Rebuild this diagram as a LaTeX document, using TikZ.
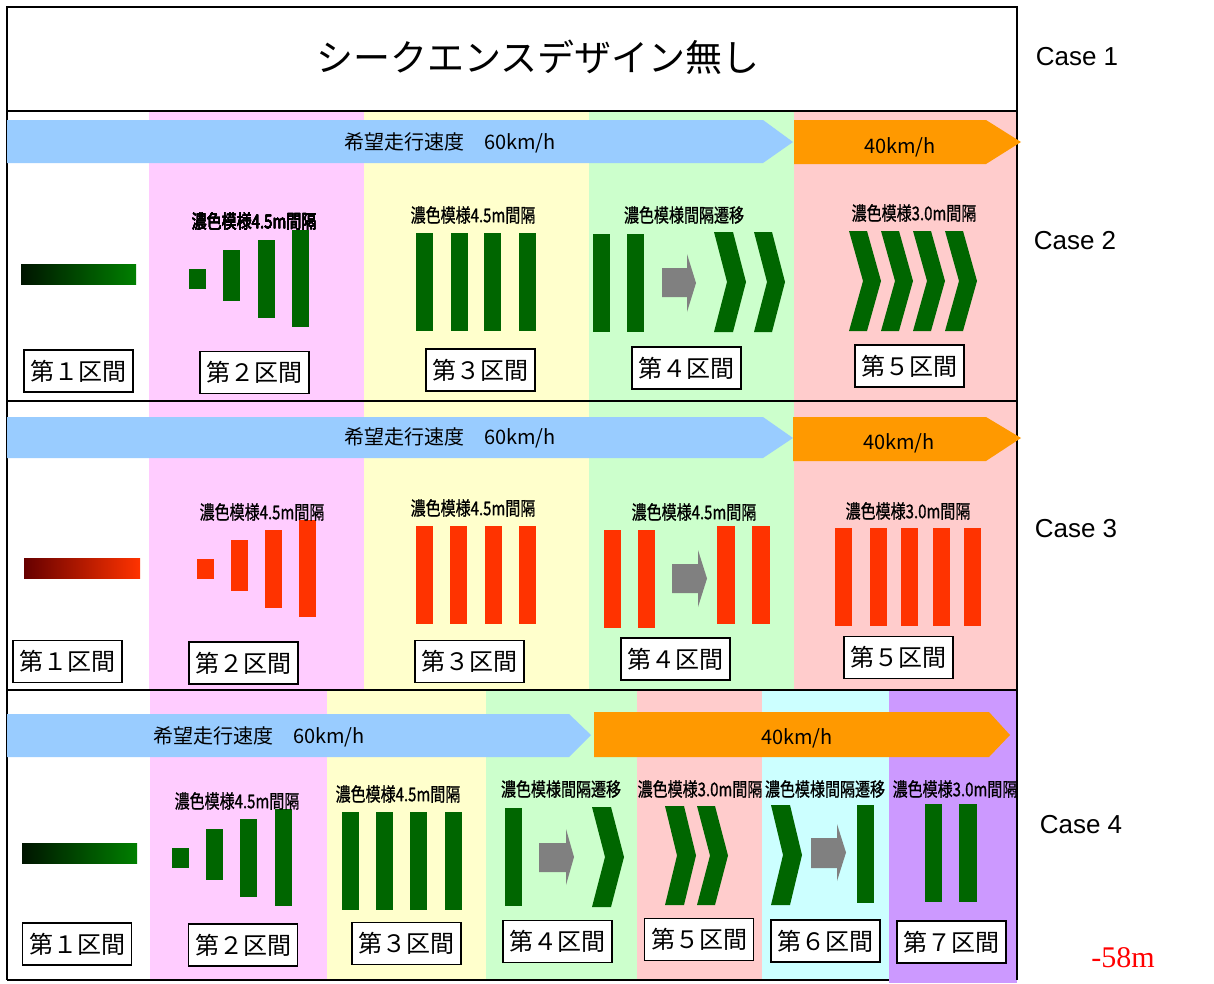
\documentclass[tikz,border=0pt]{standalone}
\usepackage{fontspec}
\usepackage{graphicx}
\setmainfont{Noto Sans CJK JP}
\newfontfamily\patf[FakeBold=1]{Noto Sans CJK JP}
\newfontfamily\arialf{Liberation Sans}
\newfontfamily\timesf{Liberation Serif}
\definecolor{bpink}{HTML}{FFCCFF}
\definecolor{byellow}{HTML}{FFFFCC}
\definecolor{bgreen}{HTML}{CCFFCC}
\definecolor{bsalmon}{HTML}{FFCCCC}
\definecolor{bcyan}{HTML}{CCFFFF}
\definecolor{bpurple}{HTML}{CC99FF}
\definecolor{skyblue}{HTML}{99CCFF}
\definecolor{orng}{HTML}{FF9900}
\definecolor{dkgreen}{HTML}{006600}
\definecolor{redbar}{HTML}{FF3300}
\definecolor{grayarr}{HTML}{808080}
\newcommand{\pat}[1]{\scalebox{0.79}[1]{\patf\fontsize{19}{19}\selectfont #1}}
\newcommand{\chev}[6]{% color, x0, ytop, ybot, w, d
  \fill[#1] ({#2},{#3}) -- ({#2+#5},{#3}) -- ({#2+#5+#6},{(#3+#4)/2}) -- ({#2+#5},{#4}) -- ({#2},{#4}) -- ({#2+#6},{(#3+#4)/2}) -- cycle;}
\newcommand{\garr}[7]{% x0, x1, x2(tip), body top, body bot, head top, head bot
  \fill[grayarr] ({#1},{#4}) -- ({#2},{#4}) -- ({#2},{#6}) -- ({#3},{(#6+#7)/2}) -- ({#2},{#7}) -- ({#2},{#5}) -- ({#1},{#5}) -- cycle;}
\tikzset{
  secbox/.style={draw=black, line width=1.5pt, fill=white, minimum width=109pt, minimum height=42pt, inner sep=0pt, font=\fontsize{24}{24}\selectfont},
  patlab/.style={inner sep=0pt},
  spdtext/.style={inner sep=0pt, font=\fontsize{20}{20}\selectfont},
  caselab/.style={inner sep=0pt, font=\arialf\fontsize{26}{26}\selectfont},
  frame/.style={draw=black, line width=2pt},
}
\begin{document}
\begin{tikzpicture}[x=1pt,y=-1pt]
\useasboundingbox (0,0) rectangle (1214,983);
\fill[white] (0,0) rectangle (1214,983);
% ---------- bands case 2 and 3
\foreach \ya/\yb in {111/401, 401/690}{
  \fill[bpink] (149,\ya) rectangle (364,\yb);
  \fill[byellow] (364,\ya) rectangle (589,\yb);
  \fill[bgreen] (589,\ya) rectangle (794,\yb);
  \fill[bsalmon] (794,\ya) rectangle (1017,\yb);
}
% ---------- bands case 4
\fill[bpink] (150,690) rectangle (327,980);
\fill[byellow] (327,690) rectangle (486,980);
\fill[bgreen] (486,690) rectangle (637,980);
\fill[bsalmon] (637,690) rectangle (762,980);
\fill[bcyan] (762,690) rectangle (889,980);
\fill[bpurple] (889,690) rectangle (1017,983);
% ---------- frame
\draw[frame] (7,7) rectangle (1017,111);
\draw[frame] (7,111) -- (7,980);
\draw[frame] (1017,111) -- (1017,980);
\draw[frame] (7,401) -- (1017,401);
\draw[frame] (7,690) -- (1017,690);
\draw[frame] (7,980) -- (889,980);
\node[inner sep=0pt, font=\fontsize{37}{37}\selectfont] (title) at (538,57) {シークエンスデザイン無し};
% ---------- case labels
\node[caselab] (case1) at (1077,57) {Case 1};
\node[caselab] (case2) at (1075,241) {Case 2};
\node[caselab] (case3) at (1076,529) {Case 3};
\node[caselab] (case4) at (1081,825) {Case 4};
\node[inner sep=0pt, text=red, font=\timesf\fontsize{30}{30}\selectfont] (dist) at (1123,958) {-58m};
% ---------- speed arrows
\fill[skyblue] (7,120) -- (763,120) -- (793,142) -- (763,163) -- (7,163) -- cycle;
\fill[orng] (794,120) -- (986,120) -- (1021,142) -- (986,164) -- (794,164) -- cycle;
\fill[skyblue] (7,417) -- (763,417) -- (793,438) -- (763,458) -- (7,458) -- cycle;
\fill[orng] (793,417) -- (986,417) -- (1021,438) -- (986,461) -- (793,461) -- cycle;
\fill[skyblue] (7,714) -- (569,714) -- (591,735) -- (569,757) -- (7,757) -- cycle;
\fill[orng] (594,712) -- (989,712) -- (1010,735) -- (989,757) -- (594,757) -- cycle;
\node[spdtext] (s2a) at (450,143) {希望走行速度　60km/h};
\node[spdtext] (s2b) at (900,147) {40km/h};
\node[spdtext] (s3a) at (450,438) {希望走行速度　60km/h};
\node[spdtext] (s3b) at (899,443) {40km/h};
\node[spdtext] (s4a) at (259,737) {希望走行速度　60km/h};
\node[spdtext] (s4b) at (797,738) {40km/h};
% ================= CASE 2
\shade[left color=black!80!dkgreen, right color=green!50!black] (21,264) rectangle (136,284);
\fill[dkgreen] (189,269) rectangle (206,289);
\fill[dkgreen] (223,250) rectangle (240,301);
\fill[dkgreen] (258,240) rectangle (275,318);
\fill[dkgreen] (292,230) rectangle (309,327);
\foreach \x in {416,451,484,519} \fill[dkgreen] (\x,233) rectangle ++(17,98);
\fill[dkgreen] (593,234) rectangle (610,332);
\fill[dkgreen] (627,234) rectangle (644,332);
\garr{662}{687}{696}{268}{297}{254}{312}
\chev{dkgreen}{714}{232}{332}{19}{13}
\chev{dkgreen}{754}{232}{332}{18}{13}
\foreach \x in {849,881,913,945} \chev{dkgreen}{\x}{231}{331}{18}{14}
\node[patlab] (c2p2) at (254,221) {\pat{濃色模様4.5m間隔}};
\node[patlab] (c2p3) at (473,215) {\pat{濃色模様4.5m間隔}};
\node[patlab] (c2p4) at (684,215) {\pat{濃色模様間隔遷移}};
\node[patlab] (c2p5) at (914,213) {\pat{濃色模様3.0m間隔}};
\node[secbox] (c2b1) at (78.5,371) {第１区間};
\node[secbox] (c2b2) at (254.5,372.5) {第２区間};
\node[secbox] (c2b3) at (480.5,370) {第３区間};
\node[secbox] (c2b4) at (686.5,368) {第４区間};
\node[secbox] (c2b5) at (909.5,366) {第５区間};
% ================= CASE 3
\shade[left color=black!60!red, right color=redbar] (24,558) rectangle (140,578);
\fill[redbar] (197,559) rectangle (214,579);
\fill[redbar] (231,540) rectangle (248,591);
\fill[redbar] (265,530) rectangle (282,608);
\fill[redbar] (299,520) rectangle (316,617);
\foreach \x in {416,450,485,519} \fill[redbar] (\x,526) rectangle ++(17,98);
\fill[redbar] (604,530) rectangle (621,628);
\fill[redbar] (638,530) rectangle (655,628);
\fill[redbar] (717,526) rectangle (735,624);
\fill[redbar] (752,526) rectangle (770,624);
\garr{672}{698}{707}{564}{593}{550}{607}
\foreach \x in {835,870,901,933,964} \fill[redbar] (\x,528) rectangle ++(17,98);
\node[patlab] (c3p2) at (262,512) {\pat{濃色模様4.5m間隔}};
\node[patlab] (c3p3) at (473,508) {\pat{濃色模様4.5m間隔}};
\node[patlab] (c3p4) at (694,512) {\pat{濃色模様4.5m間隔}};
\node[patlab] (c3p5) at (908,511) {\pat{濃色模様3.0m間隔}};
\node[secbox] (c3b1) at (67.5,661.5) {第１区間};
\node[secbox] (c3b2) at (243.5,663) {第２区間};
\node[secbox] (c3b3) at (469.5,661.5) {第３区間};
\node[secbox] (c3b4) at (675.5,659) {第４区間};
\node[secbox] (c3b5) at (898.5,657.5) {第５区間};
% ================= CASE 4
\shade[left color=black!80!dkgreen, right color=green!50!black] (22,843) rectangle (137,863);
\fill[dkgreen] (172,848) rectangle (189,868);
\fill[dkgreen] (206,829) rectangle (223,880);
\fill[dkgreen] (240,819) rectangle (257,897);
\fill[dkgreen] (275,809) rectangle (292,906);
\foreach \x in {342,376,410,445} \fill[dkgreen] (\x,812) rectangle ++(17,98);
\fill[dkgreen] (505,808) rectangle (522,906);
\garr{539}{566}{574}{843}{872}{829}{885}
\chev{dkgreen}{592}{807}{907}{19}{13}
\chev{dkgreen}{665}{806}{905}{19}{12}
\chev{dkgreen}{697}{806}{905}{18}{13}
\chev{dkgreen}{771}{805}{905}{19}{12}
\garr{811}{837}{846}{838}{868}{824}{881}
\fill[dkgreen] (857,805) rectangle (874,903);
\fill[dkgreen] (925,804) rectangle (942,902);
\fill[dkgreen] (959,804) rectangle (977,902);
\node[patlab] (c4p2) at (237,801) {\pat{濃色模様4.5m間隔}};
\node[patlab] (c4p3) at (398,794) {\pat{濃色模様4.5m間隔}};
\node[patlab] (c4p4) at (561,789) {\pat{濃色模様間隔遷移}};
\node[patlab] (c4p5) at (700,789) {\pat{濃色模様3.0m間隔}};
\node[patlab] (c4p6) at (825,789) {\pat{濃色模様間隔遷移}};
\node[patlab] (c4p7) at (955,789) {\pat{濃色模様3.0m間隔}};
\node[secbox] (c4b1) at (77,944) {第１区間};
\node[secbox] (c4b2) at (243,945) {第２区間};
\node[secbox] (c4b3) at (406.5,943.5) {第３区間};
\node[secbox] (c4b4) at (557.5,941.5) {第４区間};
\node[secbox] (c4b5) at (699,939.5) {第５区間};
\node[secbox] (c4b6) at (825.5,941) {第６区間};
\node[secbox] (c4b7) at (951.5,942) {第７区間};
\end{tikzpicture}
\end{document}
